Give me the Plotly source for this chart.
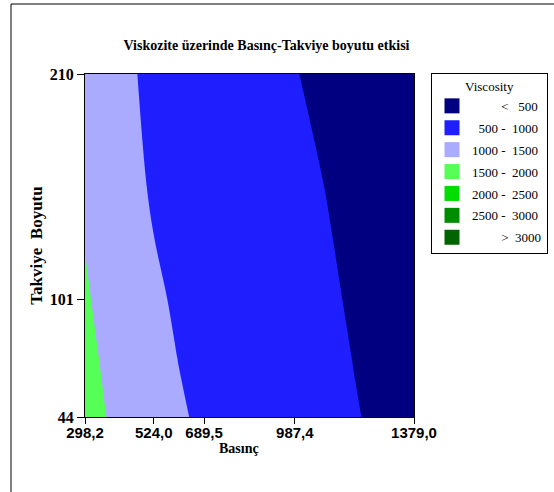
import plotly.graph_objects as go

basinc = [298.2, 411.1, 524.0, 606.75, 689.5, 838.45, 987.4, 1183.2, 1379.0]
takviye = [44, 72.5, 101, 130, 155.5, 210]
viscosity = [
    [1678, 1391, 1174, 1043, 937, 784, 656, 514, 394],
    [1614, 1332, 1119, 992, 897, 751, 629, 494, 379],
    [1548, 1271, 1062, 947, 857, 718, 602, 474, 366],
    [1487, 1202, 1003, 904, 818, 687, 578, 456, 354],
    [1394, 1113, 971, 875, 792, 665, 558, 440, 341],
    [1346, 1079, 928, 831, 747, 617, 509, 390, 288],
]

x_tickvals = [298.2, 524.0, 689.5, 987.4, 1379.0]
x_ticktext = ["298,2", "524,0", "689,5", "987,4", "1379,0"]
y_tickvals = [44, 101, 210]
y_ticktext = ["44", "101", "210"]

level_start, level_end, level_size = 500, 3000, 500
band_colors = ["#000080", "#1E1EFF", "#AAAAFF", "#55FF55", "#00DD00", "#008C00", "#006400"]
nb = "\u00a0"
band_labels = [
    nb * 9 + "<" + nb * 3 + "500",
    nb * 2 + "500 -" + nb * 2 + "1000",
    "1000 -" + nb * 2 + "1500",
    "1500 -" + nb * 2 + "2000",
    "2000 -" + nb * 2 + "2500",
    "2500 -" + nb * 2 + "3000",
    nb * 9 + ">" + nb * 2 + "3000",
]

n = len(band_colors)
colorscale = [[i / (n - 1), c] for i, c in enumerate(band_colors)]

fig = go.Figure()
fig.add_trace(go.Contour(
    x=basinc, y=takviye, z=viscosity,
    colorscale=colorscale,
    contours=dict(start=level_start, end=level_end, size=level_size, coloring="fill"),
    line=dict(width=0),
    showscale=False, showlegend=False, hoverinfo="skip",
))

for i, (c, lab) in enumerate(zip(band_colors, band_labels)):
    fig.add_trace(go.Scatter(
        x=[None], y=[None], mode="markers",
        marker=dict(symbol="square", size=15, color=c),
        name=lab, legendgroup=str(i), showlegend=True,
    ))

L, R, T, B = 85, 140, 74, 75
W, H = 554, 492
pw, ph = W - L - R, H - T - B

def px_x(p):
    return (p - L) / pw

def px_y(p):
    return (H - B - p) / ph

fig.update_layout(
    width=W, height=H,
    margin=dict(l=L, r=R, t=T, b=B, autoexpand=False),
    paper_bgcolor="white", plot_bgcolor="white",
    title=dict(text="<b>Viskozite üzerinde Basınç-Takviye boyutu etkisi</b>",
               font=dict(family="Liberation Serif", size=14, color="black"),
               xref="container", yref="container", x=266.5 / W, y=1 - 45 / H,
               xanchor="center", yanchor="middle"),
    xaxis=dict(range=[298.2, 1379.0], tickvals=x_tickvals, ticktext=x_ticktext,
               ticks="outside", ticklen=6, tickcolor="black", showgrid=False, zeroline=False,
               showline=True, linecolor="black", linewidth=1, mirror=True,
               ticklabelstandoff=-4,
               tickfont=dict(family="Liberation Sans Narrow, Arial Narrow, Liberation Sans",
                             size=15, color="black", weight="bold")),
    yaxis=dict(range=[44, 210], tickvals=y_tickvals, ticktext=y_ticktext,
               ticks="outside", ticklen=7, tickcolor="black", showgrid=False, zeroline=False,
               showline=True, linecolor="black", linewidth=1, mirror=True,
               tickfont=dict(family="Liberation Serif", size=16, color="black", weight="bold"),
               title=dict(text="<b>Takviye" + nb * 2 + "Boyutu</b>", standoff=2,
                          font=dict(family="Liberation Serif", size=17, color="black"))),
    legend=dict(x=px_x(431), y=px_y(73), xanchor="left", yanchor="top",
                bgcolor="white", bordercolor="black", borderwidth=1,
                font=dict(family="Liberation Serif", size=13, color="black"),
                title=dict(text="Viscosity", side="top center",
                           font=dict(family="Liberation Serif", size=13, color="black")),
                tracegroupgap=2, itemwidth=30),
    annotations=[dict(text="<b>Basınç</b>", xref="paper", yref="paper",
                      x=px_x(238.5), y=px_y(448), xanchor="center", yanchor="middle",
                      showarrow=False,
                      font=dict(family="Liberation Serif", size=14, color="black"))],
    shapes=[dict(type="rect", xref="paper", yref="paper",
                 x0=px_x(11), x1=px_x(600), y0=px_y(540), y1=px_y(4),
                 line=dict(color="black", width=1), fillcolor="rgba(0,0,0,0)", layer="below")],
)

fig.write_html("out.html", config={"displayModeBar": False},
               post_script="document.body.style.margin='0px';")
